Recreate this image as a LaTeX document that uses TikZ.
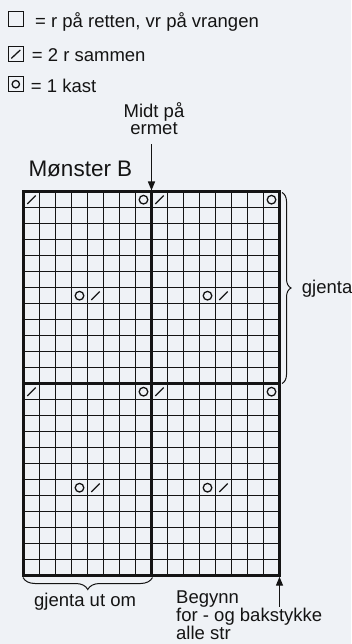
\documentclass[tikz,border=0pt]{standalone}
\usepackage{fontspec}
\setmainfont{Liberation Sans}
\usepackage{tikz}
\usetikzlibrary{decorations.pathreplacing,arrows.meta}
\definecolor{bakgrunn}{RGB}{239,242,246}
\definecolor{blekk}{RGB}{20,20,20}
\newcommand{\rsammen}[2]{\draw[tegn] ({23.5+16*(#1)-8-4.2},{191.7+16*(#2)-8+4.2}) -- ++(8.4,-8.4);}
\newcommand{\kast}[2]{\draw[tegn] ({23.5+16*(#1)-8},{191.7+16*(#2)-8}) circle[radius=4.3pt];}
\tikzset{
  tynn/.style={line width=1pt, color=blekk},
  tykk/.style={line width=3pt, color=blekk},
  tegn/.style={line width=1.3pt, color=blekk},
  rute/.style={draw=blekk, line width=1pt, minimum size=15pt, inner sep=0pt},
  tekst/.style={inner sep=0pt, text=blekk, font=\fontsize{18.5}{19}\selectfont},
  pil/.style={line width=1.3pt, color=blekk, -{Triangle[length=9pt,width=7pt]}},
  klamme/.style={line width=1pt, color=blekk, decorate, decoration={brace,#1}}
}

\begin{document}
\begin{tikzpicture}[x=1pt,y=-1pt]
    \fill[bakgrunn] (0,0) rectangle (351,644);
    \useasboundingbox (0,0) rectangle (351,644);
    % tegnforklaring
    \node[rute] (rute1) at (16,19.5) {};
    \node[rute] (rute2) at (15.8,54.2) {};
    \node[rute, line width=1.4pt] (rute3) at (15.8,84.2) {};
    \draw[tegn] ([shift={(-4.5,4.2)}]rute2.center) -- ++(9,-8.4);
    \draw[tegn] (rute3.center) circle[radius=3.7pt];
    \node[tekst, anchor=base west] (forkl1) at (35,27.3) {= r på retten, vr på vrangen};
    \node[tekst, anchor=base west] (forkl2) at (31.7,61.7) {= 2 r sammen};
    \node[tekst, anchor=base west] (forkl3) at (30.7,92.5) {= 1 kast};
    % diagram
    \foreach \k in {0,...,16} \draw[tynn] ({23.5+16*\k},191.7) -- ({23.5+16*\k},575.7);
    \foreach \k in {0,...,24} \draw[tynn] (23.5,{191.7+16*\k}) -- (279.5,{191.7+16*\k});
    \draw[tykk] (23.5,191.7) rectangle (279.5,575.7);
    \draw[tykk] (151.5,191.7) -- (151.5,575.7);
    \draw[tykk] (23.5,383.7) -- (279.5,383.7);
    \foreach \r in {0,12} {
        \rsammen{1}{1+\r} \kast{8}{1+\r} \rsammen{9}{1+\r} \kast{16}{1+\r}
        \kast{4}{7+\r} \rsammen{5}{7+\r} \kast{12}{7+\r} \rsammen{13}{7+\r}
    }
    \node[tekst, anchor=base west, font=\fontsize{22.5}{24}\selectfont] (monster) at (28.3,176.7) {Mønster B};
    % piler
    \node[tekst, align=center, anchor=base, font=\fontsize{18.5}{17}\selectfont] (midt) at (154,135) {Midt på\\ermet};
    \coordinate (midtstart) at (151.5,144.3);
    \coordinate (midttopp) at (151.5,190.5);
    \draw[pil] (midtstart) -- (midttopp);
    \node[tekst, align=left, anchor=base west, font=\fontsize{18.5}{17.8}\selectfont] (begynn) at (176,639) {Begynn\\for - og bakstykke\\alle str};
    \coordinate (begynnstart) at (279.5,606.7);
    \coordinate (begynnbunn) at (279.5,576.7);
    \draw[pil] (begynnstart) -- (begynnbunn);
    % klammer
    \coordinate (hoyretopp) at (282,192.5);
    \coordinate (hoyrebunn) at (282,383.5);
    \draw[klamme={amplitude=9pt}] (hoyretopp) -- (hoyrebunn);
    \node[tekst, anchor=base west] (gjenta) at (301.7,293.3) {gjenta};
    \coordinate (bunnhoyre) at (152.5,577.5);
    \coordinate (bunnvenstre) at (23,577.5);
    \draw[klamme={amplitude=12pt}] (bunnhoyre) -- (bunnvenstre);
    \node[tekst, anchor=base west] (gjentaom) at (34,606) {gjenta ut om};
\end{tikzpicture}
\end{document}
